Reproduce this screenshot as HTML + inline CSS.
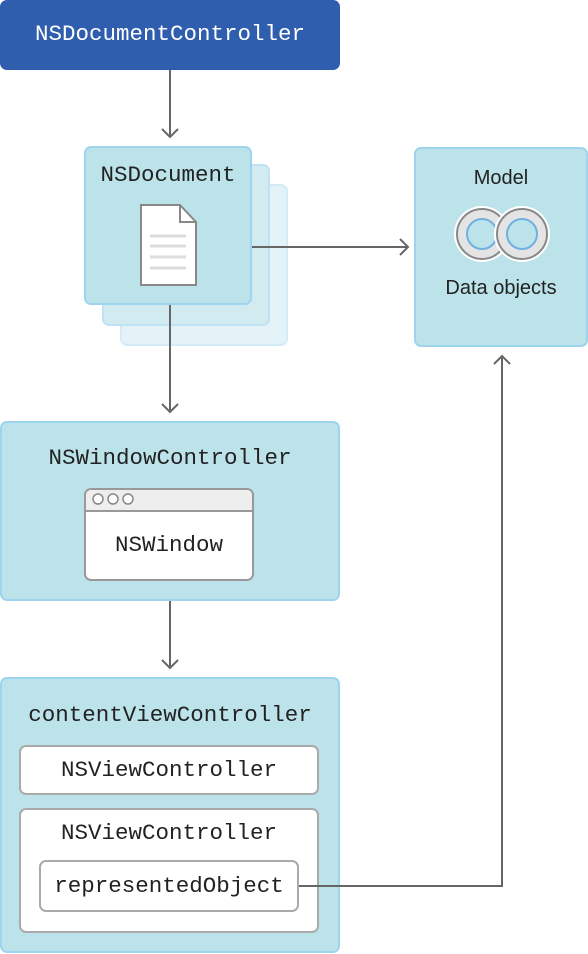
<!DOCTYPE html>
<html><head><style>
body{margin:0;width:588px;height:954px;background:#fff;position:relative;overflow:hidden;font-family:"Liberation Mono",monospace;}
.b{position:absolute;box-sizing:border-box;border-radius:7px;}
.c{background:#bde3ea;border:2px solid #9fd4ef;}
.w{background:#fff;border:2px solid #999;}
.t{position:absolute;left:0;right:0;text-align:center;color:#222;font-size:22.5px;line-height:26px;white-space:nowrap;}
.s{font-family:"Liberation Sans",sans-serif;font-size:20px;}
</style></head><body>
<div class="b" style="left:0;top:0;width:340px;height:70px;background:#2f5eae;"><div class="t" style="top:21px;color:#fff">NSDocumentController</div></div>
<div class="b" style="left:120px;top:184px;width:168px;height:162px;background:#e3f3f7;border:2px solid #d4ecf7"></div>
<div class="b" style="left:102px;top:164px;width:168px;height:162px;background:#d1ebf1;border:2px solid #bfe2f4"></div>
<div class="b c" style="left:84px;top:146px;width:168px;height:159px;"><div class="t" style="top:14px">NSDocument</div></div>
<div class="b c" style="left:414px;top:147px;width:174px;height:200px;"><div class="t s" style="top:16px">Model</div><div class="t s" style="top:126px">Data objects</div></div>
<div class="b c" style="left:0;top:421px;width:340px;height:180px;"><div class="t" style="top:22px">NSWindowController</div></div>
<div class="b w" style="left:84px;top:488px;width:170px;height:93px;"><div style="height:20px;border-bottom:2px solid #999;background:#eee;border-radius:5px 5px 0 0"></div><div class="t" style="top:42px">NSWindow</div></div>
<div class="b c" style="left:0;top:677px;width:340px;height:276px;"><div class="t" style="top:23px">contentViewController</div></div>
<div class="b w" style="left:19px;top:745px;width:300px;height:50px;border-color:#aaa"><div class="t" style="top:10px">NSViewController</div></div>
<div class="b w" style="left:19px;top:808px;width:300px;height:125px;border-color:#aaa"><div class="t" style="top:10px">NSViewController</div></div>
<div class="b w" style="left:39px;top:860px;width:260px;height:52px;border-color:#aaa"><div class="t" style="top:11px">representedObject</div></div>
<svg style="position:absolute;left:0;top:0" width="588" height="954">
<g stroke="#666" stroke-width="2" fill="none">
<path d="M170 70V137M162 129l8 8 8-8"/>
<path d="M170 305V412M162 404l8 8 8-8"/>
<path d="M170 601V668M162 660l8 8 8-8"/>
<path d="M252 247H408M400 239l8 8-8 8"/>
<path d="M299 886H502V356M494 364l8-8 8 8"/>
</g>
<path d="M141 205H180L196 222V285H141Z" fill="#fff" stroke="#888" stroke-width="2"/>
<path d="M180 205V222H196" fill="none" stroke="#888" stroke-width="2"/>
<g stroke="#ddd" stroke-width="3"><path d="M150 236H186M150 246H186M150 257H186M150 268H186"/></g>
<g stroke="#888" stroke-width="1.5" fill="#fff"><circle cx="98" cy="499" r="5"/><circle cx="113" cy="499" r="5"/><circle cx="128" cy="499" r="5"/></g>
<g>
<circle cx="482" cy="234" r="28" fill="#fff"/><circle cx="482" cy="234" r="25" fill="#e4e4e4" stroke="#888" stroke-width="2"/><circle cx="482" cy="234" r="15" fill="#bde3ea" stroke="#6fb0e0" stroke-width="2"/>
<circle cx="522" cy="234" r="28" fill="#fff"/><circle cx="522" cy="234" r="25" fill="#e4e4e4" stroke="#888" stroke-width="2"/><circle cx="522" cy="234" r="15" fill="#bde3ea" stroke="#6fb0e0" stroke-width="2"/>
</g>
</svg>
</body></html>
